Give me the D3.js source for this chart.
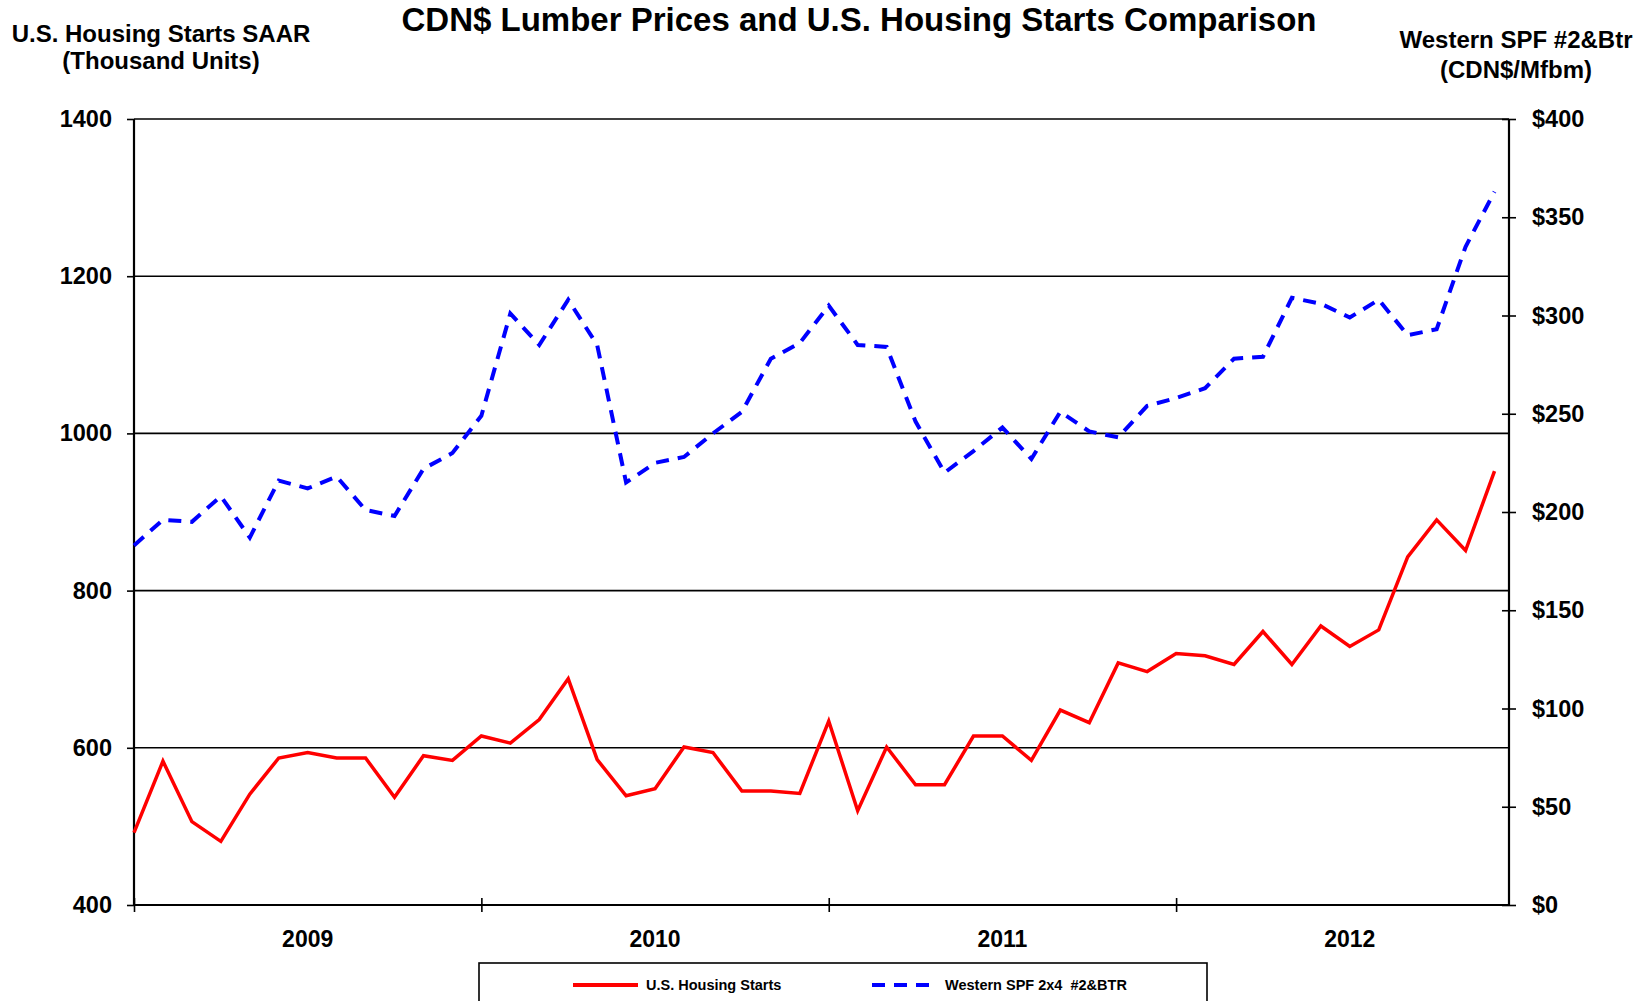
<!DOCTYPE html>
<html>
<head>
<meta charset="utf-8">
<script src="https://cdn.jsdelivr.net/npm/d3@7"></script>
<style>
    body { margin: 0; background: #fff; }
    text { font-family: "Liberation Sans", Arial, sans-serif; font-weight: bold; fill: #000; }
</style>
</head>
<body>
<div id="chart"></div>
<script>
// monthly data, Jan 2009 - Dec 2012
const years = ["2009", "2010", "2011", "2012"];
const housing_starts = [
    492, 583, 506, 481, 541, 587, 594, 587, 587, 537, 590, 584,
    615, 606, 636, 688, 585, 539, 548, 601, 594, 545, 545, 542,
    634, 520, 601, 553, 553, 615, 615, 584, 648, 632, 708, 697,
    720, 717, 706, 748, 706, 755, 729, 750, 843, 890, 851, 952
];
const lumber_prices = [
    183, 196, 195, 208, 187, 216, 212, 218, 201, 198, 222, 230,
    249, 301, 285, 308, 285, 215, 225, 228, 240, 251, 278, 286,
    305, 285, 284, 246, 220, 231, 243, 227, 251, 241, 238, 254,
    258, 263, 278, 279, 309, 306, 299, 308, 290, 293, 335, 363
];
const left_ticks = [400, 600, 800, 1000, 1200, 1400];
const right_ticks = [0, 50, 100, 150, 200, 250, 300, 350, 400];

const width = 1648;
const height = 1001;
const margin_left = 134;
const margin_right = 139;
const margin_top = 119;
const margin_bottom = 96;

const svg = d3.select("#chart").append("svg")
    .attr("width", width)
    .attr("height", height);

// Create scales
const xScale = d3.scaleLinear()
    .domain([0, housing_starts.length - 0.5])
    .range([margin_left, width - margin_right]);

const yLeft = d3.scaleLinear()
    .domain([400, 1400])
    .range([height - margin_bottom, margin_top]);

const yRight = d3.scaleLinear()
    .domain([0, 400])
    .range([height - margin_bottom, margin_top]);

const x0 = xScale.range()[0];
const x1 = xScale.range()[1];

// gridlines
svg.append("g")
    .selectAll("line")
    .data(left_ticks)
    .join("line")
    .attr("x1", x0)
    .attr("x2", x1)
    .attr("y1", d => yLeft(d))
    .attr("y2", d => yLeft(d))
    .attr("stroke", "#000")
    .attr("stroke-width", 1.6);

// left axis
const leftAxis = svg.append("g")
    .attr("transform", `translate(${x0},0)`)
    .call(d3.axisLeft(yLeft).tickValues(left_ticks).tickSize(7).tickPadding(15)
        .tickFormat(d3.format("d")));

// right axis, ticks cross the line
const rightAxis = svg.append("g")
    .attr("transform", `translate(${x1},0)`)
    .call(d3.axisRight(yRight).tickValues(right_ticks).tickSize(7).tickPadding(16)
        .tickFormat(d => "$" + d));
rightAxis.selectAll(".tick line").attr("x1", -7);

// bottom axis with year ticks
const yearTicks = d3.range(0, housing_starts.length, 12);
const bottomAxis = svg.append("g")
    .attr("transform", `translate(0,${yLeft(400)})`)
    .call(d3.axisBottom(xScale).tickValues(yearTicks).tickSize(7).tickFormat(""));
bottomAxis.selectAll(".tick line").attr("y1", -7);

[leftAxis, rightAxis, bottomAxis].forEach(ax => {
    ax.select(".domain").attr("stroke-width", 2.2).attr("stroke", "#000");
    ax.selectAll(".tick line").attr("stroke-width", 1.6).attr("stroke", "#000");
    ax.selectAll("text").attr("font-size", 23.5).attr("font-family", null).attr("fill", "#000");
});
bottomAxis.select(".domain").attr("d", `M${x0},0H${x1}`);
leftAxis.select(".domain").attr("d", `M0,${yLeft(400)}V${yLeft(1400)}`);
rightAxis.select(".domain").attr("d", `M0,${yRight(0)}V${yRight(400)}`);

// year labels in the middle of each year
svg.append("g")
    .selectAll("text")
    .data(years)
    .join("text")
    .attr("x", (d, i) => xScale(i * 12 + 6))
    .attr("y", yLeft(400) + 42)
    .attr("text-anchor", "middle")
    .attr("font-size", 23)
    .text(d => d);

// lines
const startsLine = d3.line()
    .x((d, i) => xScale(i))
    .y(d => yLeft(d));
const lumberLine = d3.line()
    .x((d, i) => xScale(i))
    .y(d => yRight(d));

svg.append("path")
    .datum(lumber_prices)
    .attr("d", lumberLine)
    .attr("fill", "none")
    .attr("stroke", "#0000ff")
    .attr("stroke-width", 4)
    .attr("stroke-dasharray", "13,9");

svg.append("path")
    .datum(housing_starts)
    .attr("d", startsLine)
    .attr("fill", "none")
    .attr("stroke", "#ff0000")
    .attr("stroke-width", 3.5)
    .attr("stroke-linejoin", "miter");

// titles
svg.append("text")
    .attr("x", 859)
    .attr("y", 31)
    .attr("text-anchor", "middle")
    .attr("font-size", 33)
    .text("CDN$ Lumber Prices and U.S. Housing Starts Comparison");

const leftTitle = svg.append("text")
    .attr("text-anchor", "middle")
    .attr("font-size", 24);
leftTitle.append("tspan").attr("x", 161).attr("y", 42).text("U.S. Housing Starts SAAR");
leftTitle.append("tspan").attr("x", 161).attr("y", 69).text("(Thousand Units)");

const rightTitle = svg.append("text")
    .attr("text-anchor", "middle")
    .attr("font-size", 24);
rightTitle.append("tspan").attr("x", 1516).attr("y", 48).text("Western  SPF #2&Btr");
rightTitle.append("tspan").attr("x", 1516).attr("y", 78).text("(CDN$/Mfbm)");

// legend
const legend = svg.append("g");
legend.append("rect")
    .attr("x", 479)
    .attr("y", 963)
    .attr("width", 728)
    .attr("height", 60)
    .attr("fill", "#fff")
    .attr("stroke", "#000")
    .attr("stroke-width", 1.6);

const legend_items = [
    {label: "U.S. Housing Starts", color: "#ff0000", dash: null, x: 573},
    {label: "Western SPF 2x4  #2&BTR", color: "#0000ff", dash: "13,9", x: 872}
];
legend_items.forEach(item => {
    legend.append("line")
        .attr("x1", item.x)
        .attr("x2", item.x + 65)
        .attr("y1", 985)
        .attr("y2", 985)
        .attr("stroke", item.color)
        .attr("stroke-width", 4)
        .attr("stroke-dasharray", item.dash);
    legend.append("text")
        .attr("x", item.x + 73)
        .attr("y", 990)
        .attr("font-size", 14.5)
        .attr("xml:space", "preserve")
        .style("white-space", "pre")
        .text(item.label);
});
</script>
</body>
</html>
